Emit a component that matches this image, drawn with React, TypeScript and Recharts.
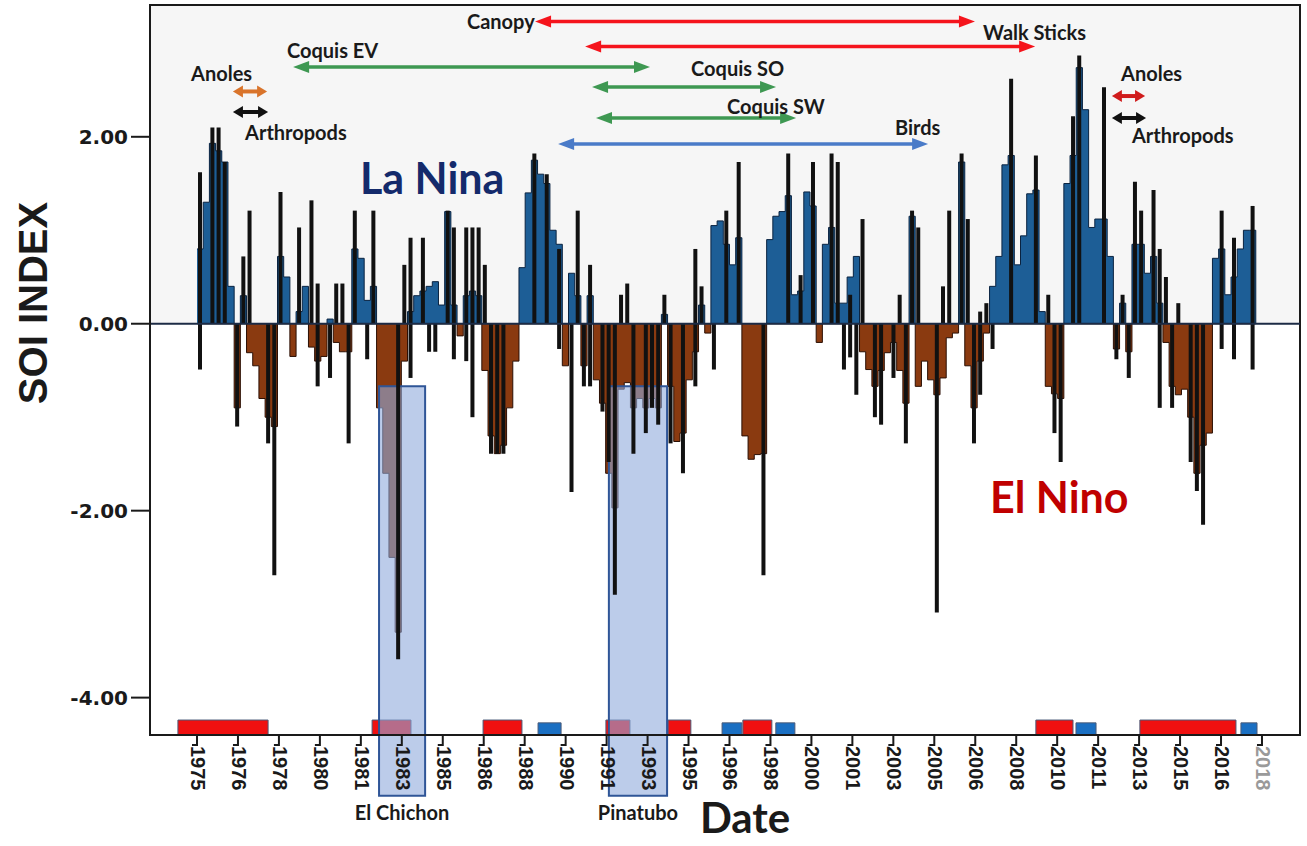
import React from "react";
import {
  ComposedChart,
  Area,
  Bar,
  XAxis,
  YAxis,
  ReferenceLine,
  ReferenceArea,
  ReferenceDot,
} from "recharts";

const W = 1307;
const H = 846;
const X_MIN = 1973.102;
const X_MAX = 2019.535;
const Y_MIN = -4.4;
const Y_MAX = 3.41;

// smoothed SOI, one value per quarter starting 1975 Q1
const soiQuarterly = [
  0.8, 1.3, 1.93, 1.85, // 1975
  1.73, 0.4, -0.9, 0.3,
  -0.31, -0.45, -0.8, -1.0,
  -1.1, 0.72, 0.5, -0.35,
  0.13, 0.4, -0.25, -0.4,
  -0.35, 0.05, -0.2, -0.3, // 1980
  -0.3, 0.8, 0.7, 0.25,
  0.4, -0.9, -1.6, -2.5,
  -3.3, -0.4, 0.13, 0.3,
  0.35, 0.4, 0.45, 0.2,
  1.2, 0.2, -0.13, 0.3, // 1985
  0.35, 0.3, -0.5, -1.2,
  -1.39, -1.3, -0.9, -0.4,
  0.6, 1.4, 1.75, 1.6,
  1.5, 1.0, 0.85, -0.45,
  0.54, 0.3, -0.45, 0.3, // 1990
  -0.6, -0.85, -1.6, -1.97,
  -0.7, -0.63, -0.9, -0.8,
  -0.9, -0.8, -0.9, 0.1,
  -0.67, -1.26, -1.17, -0.6,
  -0.3, 0.2, -0.1, 1.05, // 1995
  1.1, 0.85, 0.63, 0.92,
  -1.2, -1.45, -1.4, -1.39,
  0.9, 1.15, 1.2, 1.37,
  0.31, 0.35, 1.41, 1.26,
  -0.2, 0.85, 1.03, 0.22, // 2000
  0.22, 0.5, 0.72, -0.3,
  -0.49, -0.67, -0.5, -0.31,
  -0.2, -0.5, -0.85, 1.15,
  -0.67, -0.4, -0.6, -0.76,
  -0.58, -0.15, -0.1, 1.73, // 2005
  -0.45, -0.9, -0.4, -0.1,
  0.4, 0.72, 1.7, 1.8,
  0.63, 0.94, 1.39, 1.43,
  0.13, -0.67, -0.75, -0.8,
  1.5, 1.8, 2.74, 2.29, // 2010
  1.03, 1.12, 1.12, 0.72,
  -0.27, 0.22, -0.3, 0.85,
  0.85, 0.54, 0.72, 0.22,
  -0.2, -0.67, -0.76, -0.7,
  -1.0, -1.6, -1.3, -1.17, // 2015
  0.7, 0.8, 0.31, 0.5,
  0.8, 1.0, 1.0, 0,
];

// monthly extremes drawn as black spikes (quarter index -> value)
const spikeUpQuarter = [
  0, 2, 3, 4, 7, 8, 13, 16, 18, 19, 22, 23, 25, 28, 33, 34, 36, 40, 41, 43, 44,
  45, 46, 54, 56, 58, 61, 63, 68, 69, 75, 80, 81, 85, 87, 95, 97, 99, 102, 103,
  105, 107, 113, 115, 116, 120, 121, 123, 124, 126, 127, 131, 135, 137, 141, 142,
  146, 149, 151, 152, 154, 155, 156, 158, 165, 167, 170,
];
const spikeUpValue = [
  1.62, 2.1, 2.1, 1.73, 0.72, 1.21, 1.41, 1.03, 1.32, 0.43, 0.43, 0.43, 1.21,
  1.21, 0.63, 0.92, 0.92, 1.21, 1.03, 1.03, 1.03, 1.03, 0.63, 1.82, 1.6, 0.8,
  1.21, 0.63, 0.31, 0.43, 0.31, 0.8, 0.4, 1.21, 1.73, 1.82, 0.52, 1.73, 1.82,
  1.73, 0.31, 1.12, 0.31, 1.21, 1.03, 0.4, 1.21, 1.82, 1.12, 0.13, 0.22, 2.62,
  1.8, 0.31, 2.22, 2.87, 2.53, 0.31, 1.52, 1.21, 1.43, 0.8, 0.5, 0.22, 1.21,
  0.92, 1.26,
];
const spikeDownQuarter = [
  0, 6, 11, 12, 19, 21, 24, 27, 32, 34, 37, 38, 41, 43, 44, 47, 48, 49, 58, 60,
  62, 63, 65, 66, 67, 70, 72, 73, 74, 76, 78, 80, 83, 91, 104, 105, 106, 109,
  110, 112, 114, 119, 125, 126, 128, 138, 139, 148, 150, 155, 157, 160, 161, 162,
  165, 167, 170,
];
const spikeDownValue = [
  -0.49, -1.1, -1.28, -2.69, -0.67, -0.58, -1.28, -0.38, -3.59, -0.58, -0.3,
  -0.3, -0.38, -0.4, -1.0, -1.39, -1.39, -1.39, -0.27, -1.8, -0.67, -0.67,
  -0.94, -1.48, -2.9, -1.39, -1.17, -0.9, -1.08, -1.28, -1.6, -0.67, -0.49,
  -2.69, -0.49, -0.36, -0.76, -1.0, -1.08, -0.58, -1.28, -3.09, -1.28, -0.76,
  -0.27, -1.17, -1.48, -0.38, -0.58, -0.9, -0.9, -1.48, -1.79, -2.15, -0.27,
  -0.38, -0.49,
];

const tickLabels = [
  "1975", "1976", "1978", "1980", "1981", "1983", "1985", "1986", "1988",
  "1990", "1991", "1993", "1995", "1996", "1998", "2000", "2001", "2003",
  "2005", "2006", "2008", "2010", "2011", "2013", "2015", "2016", "2018",
];

// ENSO episodes marked on the time axis
const eventStart = [1974.23, 1982.07, 1986.55, 1988.77, 1991.51, 1994.02, 1996.2, 1997.04, 1998.37, 2008.87, 2010.49, 2013.07, 2017.15];
const eventEnd = [1977.87, 1983.64, 1988.12, 1989.7, 1992.48, 1994.94, 1997.0, 1998.21, 1999.14, 2010.37, 2011.3, 2016.95, 2017.8];
const eventPhase = ["EN", "EN", "EN", "LN", "EN", "EN", "LN", "EN", "LN", "EN", "LN", "EN", "LN"];

// volcanic eruptions
const volcanoNames = ["El Chichon", "Pinatubo"];
const volcanoStart = [1982.35, 1991.63];
const volcanoEnd = [1984.21, 1993.98];

// study periods (double arrows)
const studyNames = ["Canopy", "Walk Sticks", "Coquis EV", "Coquis SO", "Coquis SW", "Birds", "Anoles", "Arthropods", "Anoles", "Arthropods"];
const studyStart = [1988.65, 1990.67, 1978.88, 1990.95, 1991.11, 1989.58, 1976.45, 1976.45, 2011.94, 2011.94];
const studyEnd = [2006.41, 2008.84, 1993.29, 1998.38, 1999.19, 2004.52, 1977.83, 1977.87, 2013.28, 2013.32];

const tickPos = tickLabels.map((_, i) => 1975 + (i * 43) / 26);

const rows = soiQuarterly.map((v, k) => ({
  t: 1975 + k * 0.25,
  tc: 1975 + k * 0.25 + 0.125,
  pos: Math.max(v, 0),
  neg: Math.min(v, 0),
  up: null as number | null,
  down: null as number | null,
}));
spikeUpQuarter.forEach((k, i) => (rows[k].up = spikeUpValue[i]));
spikeDownQuarter.forEach((k, i) => (rows[k].down = spikeDownValue[i]));

// arrow + label placement (label anchor in data units)
const arrowStyle = [
  { color: "#f5141c", level: 3.233, lx: 1985.9, ly: 3.239 },
  { color: "#f5141c", level: 2.966, lx: 2006.74, ly: 3.121 },
  { color: "#3e9852", level: 2.747, lx: 1978.63, ly: 2.929 },
  { color: "#3e9852", level: 2.533, lx: 1994.95, ly: 2.736 },
  { color: "#3e9852", level: 2.201, lx: 1996.4, ly: 2.329 },
  { color: "#4a7bc8", level: 1.923, lx: 2003.18, ly: 2.105 },
  { color: "#d9742b", level: 2.485, lx: 1974.76, ly: 2.683 },
  { color: "#111111", level: 2.265, lx: 1976.94, ly: 2.051 },
  { color: "#d01c1c", level: 2.436, lx: 2012.31, ly: 2.683 },
  { color: "#111111", level: 2.201, lx: 2012.75, ly: 2.019 },
];

const BLUE = "#1d5e96";
const BROWN = "#8a3a10";

function arrowShape(color: string, small: boolean) {
  const len = small ? 10 : 16;
  const half = 6;
  const lw = small ? 4 : 3.5;
  return (p: any) => {
    const { x1, x2, y1 } = p;
    const y = y1;
    return (
      <g>
        <line x1={x1 + len - 2} y1={y} x2={x2 - len + 2} y2={y} stroke={color} strokeWidth={lw} />
        <polygon points={`${x1},${y} ${x1 + len},${y - half} ${x1 + len},${y + half}`} fill={color} />
        <polygon points={`${x2},${y} ${x2 - len},${y - half} ${x2 - len},${y + half}`} fill={color} />
      </g>
    );
  };
}

function textShape(text: string, opts: { size: number; color: string; anchor?: string; family?: string }) {
  return (p: any) => (
    <text
      x={p.cx}
      y={p.cy}
      fontFamily={opts.family ?? "Lato, sans-serif"}
      fontWeight={700}
      fontSize={opts.size}
      fill={opts.color}
      textAnchor={opts.anchor ?? "start"}
      dominantBaseline="central"
    >
      {text}
    </text>
  );
}

function XTick(props: any) {
  const { x, y, index } = props;
  const label = tickLabels[index] ?? "";
  const last = index === tickLabels.length - 1;
  return (
    <g>
      <path d={`M${x},${y} V${y + 10} H${x - 5}`} stroke="#1a1a1a" strokeWidth={2} fill="none" />
      <text
        transform={`translate(${x + 1},${y + 11}) rotate(90)`}
        textAnchor="start"
        dominantBaseline="central"
        fontFamily="Liberation Sans, Arial, sans-serif"
        fontWeight={700}
        fontSize={20}
        fill={last ? "#9a9a9a" : "#1a1a1a"}
      >
        {label}
      </text>
    </g>
  );
}

function YTick(props: any) {
  const { x, y, payload } = props;
  return (
    <text
      x={x}
      y={y}
      textAnchor="end"
      dominantBaseline="central"
      fontFamily="DejaVu Sans, sans-serif"
      fontWeight={700}
      fontSize={20}
      fill="#1a1a1a"
    >
      {Number(payload.value).toFixed(2)}
    </text>
  );
}

function YTitle(props: any) {
  const vb = props.viewBox ?? { x: 0, y: 5, width: 150, height: 730 };
  const cx = vb.x + 33;
  const cy = vb.y + 298;
  return (
    <text
      transform={`translate(${cx},${cy}) rotate(-90)`}
      textAnchor="middle"
      dominantBaseline="central"
      fontFamily="Liberation Sans Narrow, Liberation Sans, sans-serif"
      fontWeight={700}
      fontSize={40}
      fill="#1a1a1a"
    >
      SOI INDEX
    </text>
  );
}

export default function App() {
  return (
    <div style={{ position: "absolute", left: 0, top: 0, width: W, height: H, background: "#fff" }}>
      <ComposedChart width={W} height={H} data={rows} margin={{ top: 5, right: 7, bottom: 0, left: 0 }}>
        <XAxis
          type="number"
          dataKey="t"
          domain={[X_MIN, X_MAX]}
          allowDataOverflow
          ticks={tickPos}
          interval={0}
          tick={<XTick />}
          tickLine={false}
          tickSize={0}
          tickMargin={0}
          axisLine={{ stroke: "#1a1a1a", strokeWidth: 2 }}
          height={111}
        />
        <XAxis xAxisId="su" type="number" dataKey="tc" domain={[X_MIN, X_MAX]} allowDataOverflow hide />
        <XAxis xAxisId="sd" type="number" dataKey="tc" domain={[X_MIN, X_MAX]} allowDataOverflow hide />
        <YAxis
          type="number"
          domain={[Y_MIN, Y_MAX]}
          allowDataOverflow
          ticks={[-4, -2, 0, 2]}
          tick={<YTick />}
          tickSize={19}
          tickMargin={3}
          tickLine={{ stroke: "#1a1a1a", strokeWidth: 2 }}
          axisLine={{ stroke: "#1a1a1a", strokeWidth: 2 }}
          width={150}
          label={<YTitle />}
        />

        <ReferenceArea x1={X_MIN} x2={X_MAX} y1={0} y2={Y_MAX} fill="#f6f6f6" fillOpacity={1} stroke="none" />

        <Area
          type="stepAfter"
          dataKey="pos"
          baseValue={0}
          fill={BLUE}
          fillOpacity={1}
          stroke="#0a2340"
          strokeWidth={1}
          dot={false}
          activeDot={false}
          isAnimationActive={false}
        />
        <Area
          type="stepAfter"
          dataKey="neg"
          baseValue={0}
          fill={BROWN}
          fillOpacity={1}
          stroke="#2a0f04"
          strokeWidth={1}
          dot={false}
          activeDot={false}
          isAnimationActive={false}
        />
        <Bar xAxisId="su" dataKey="up" barSize={4} fill="#111111" isAnimationActive={false} />
        <Bar xAxisId="sd" dataKey="down" barSize={4} fill="#111111" isAnimationActive={false} />

        <ReferenceLine y={0} stroke="#1c2b45" strokeWidth={2} />

        {eventStart.map((s, i) => (
          <ReferenceArea
            key={`ev${i}`}
            x1={s}
            x2={eventEnd[i]}
            y1={Y_MIN}
            y2={Y_MIN + (eventPhase[i] === "EN" ? 0.16 : 0.13)}
            fill={eventPhase[i] === "EN" ? "#f01010" : "#1a6fc2"}
            fillOpacity={1}
            stroke="#4a5a78"
            strokeWidth={1}
          />
        ))}

        {volcanoStart.map((s, i) => (
          <ReferenceArea
            key={`vo${i}`}
            x1={s}
            x2={volcanoEnd[i]}
            y1={-5.05}
            y2={-0.67}
            ifOverflow="visible"
            fill="#8faadc"
            fillOpacity={0.6}
            stroke="#2f5597"
            strokeWidth={2}
          />
        ))}
        {volcanoNames.map((n, i) => (
          <ReferenceDot
            key={`vn${i}`}
            x={(volcanoStart[i] + volcanoEnd[i]) / 2}
            y={-5.22}
            r={0}
            ifOverflow="visible"
            shape={textShape(n, { size: 20, color: "#1a1a1a", anchor: "middle" })}
          />
        ))}

        {studyNames.map((n, i) => (
          <ReferenceLine
            key={`ar${i}`}
            segment={[
              { x: studyStart[i], y: arrowStyle[i].level },
              { x: studyEnd[i], y: arrowStyle[i].level },
            ]}
            stroke={arrowStyle[i].color}
            shape={arrowShape(arrowStyle[i].color, studyEnd[i] - studyStart[i] < 3)}
          />
        ))}
        {studyNames.map((n, i) => (
          <ReferenceDot
            key={`al${i}`}
            x={arrowStyle[i].lx}
            y={arrowStyle[i].ly}
            r={0}
            ifOverflow="visible"
            shape={textShape(n, { size: 20, color: "#1a1a1a" })}
          />
        ))}

        <ReferenceDot x={1981.58} y={1.56} r={0} ifOverflow="visible" shape={textShape("La Nina", { size: 43, color: "#142a6b" })} />
        <ReferenceDot x={2007.02} y={-1.85} r={0} ifOverflow="visible" shape={textShape("El Nino", { size: 43, color: "#c00000" })} />
        <ReferenceDot x={1997.13} y={-5.28} r={0} ifOverflow="visible" shape={textShape("Date", { size: 42, color: "#1a1a1a", anchor: "middle" })} />

        <ReferenceArea x1={X_MIN} x2={X_MAX} y1={Y_MIN} y2={Y_MAX} fill="none" stroke="#1a1a1a" strokeWidth={2} />
      </ComposedChart>
    </div>
  );
}
